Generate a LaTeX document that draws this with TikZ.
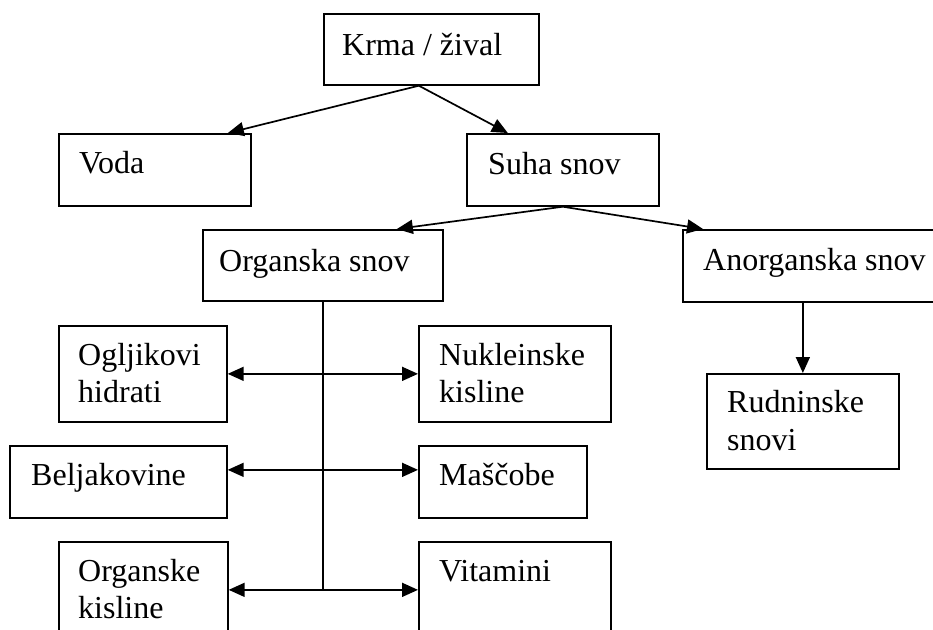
\documentclass[tikz,border=0pt]{standalone}
\usepackage{fontspec}
\setmainfont{Liberation Serif}
\usetikzlibrary{arrows.meta}
\begin{document}
\begin{tikzpicture}[x=1pt,y=-1pt,
  box/.style={draw,line width=1.7pt,rectangle,inner sep=0pt,anchor=north west},
  lbl/.style={anchor=base west,inner sep=0pt,font=\fontsize{32}{38}\selectfont},
  con/.style={line width=1.7pt,-{Triangle[length=16pt,width=14pt]}},
  dcon/.style={line width=1.7pt,{Triangle[length=16pt,width=14pt]}-{Triangle[length=16pt,width=14pt]}}]
\useasboundingbox (0,0) rectangle (933,629);
\clip (0,0) rectangle (933,629);
% boxes
\node[box,minimum width=215pt,minimum height=71pt] (krma) at (323,13) {};
\node[box,minimum width=192pt,minimum height=72pt] (voda) at (58,133) {};
\node[box,minimum width=192pt,minimum height=72pt] (suha) at (466,133) {};
\node[box,minimum width=240pt,minimum height=71pt] (org) at (202,229) {};
\node[box,minimum width=280pt,minimum height=72pt] (anor) at (682,229) {};
\node[box,minimum width=192pt,minimum height=95pt] (rud) at (706,373) {};
\node[box,minimum width=168pt,minimum height=96pt] (ogl) at (58,325) {};
\node[box,minimum width=217pt,minimum height=72pt] (belj) at (9,445) {};
\node[box,minimum width=169pt,minimum height=96pt] (orgk) at (58,541) {};
\node[box,minimum width=192pt,minimum height=96pt] (nuk) at (418,325) {};
\node[box,minimum width=168pt,minimum height=72pt] (masc) at (418,445) {};
\node[box,minimum width=192pt,minimum height=96pt] (vit) at (418,541) {};
% labels
\node[lbl] (krmat) at (342,55) {Krma / žival};
\node[lbl] (vodat) at (79,173) {Voda};
\node[lbl] (suhat) at (488,174) {Suha snov};
\node[lbl] (orgt) at (219,271) {Organska snov};
\node[lbl] (anort) at (703,270) {Anorganska snov};
\node[lbl] (rudt1) at (727,412) {Rudninske};
\node[lbl] (rudt2) at (727,450) {snovi};
\node[lbl] (oglt1) at (78,365) {Ogljikovi};
\node[lbl] (oglt2) at (78,402) {hidrati};
\node[lbl] (beljt) at (31,485) {Beljakovine};
\node[lbl] (orgkt1) at (78,581) {Organske};
\node[lbl] (orgkt2) at (78,618) {kisline};
\node[lbl] (nukt1) at (439,365) {Nukleinske};
\node[lbl] (nukt2) at (439,402) {kisline};
\node[lbl] (masct) at (439,485) {Maščobe};
\node[lbl] (vitt) at (439,581) {Vitamini};
% connectors
\draw[con] ([xshift=-12.5pt]krma.south) -- ([xshift=73pt]voda.north);
\draw[con] ([xshift=-12.5pt]krma.south) -- ([xshift=-55pt]suha.north);
\draw[con] (suha.south) -- ([xshift=74pt]org.north);
\draw[con] (suha.south) -- ([xshift=21pt]anor.north west);
\draw[con] (rud.north |- anor.south) -- (rud.north);
\draw[line width=1.7pt] (org.south) -- (org.south |- orgk.east);
\draw[dcon] (ogl.east) -- (nuk.west);
\draw[dcon] ([yshift=12pt]belj.east) -- ([yshift=12pt]masc.west);
\draw[dcon] (orgk.east) -- (vit.west);
\end{tikzpicture}
\end{document}
